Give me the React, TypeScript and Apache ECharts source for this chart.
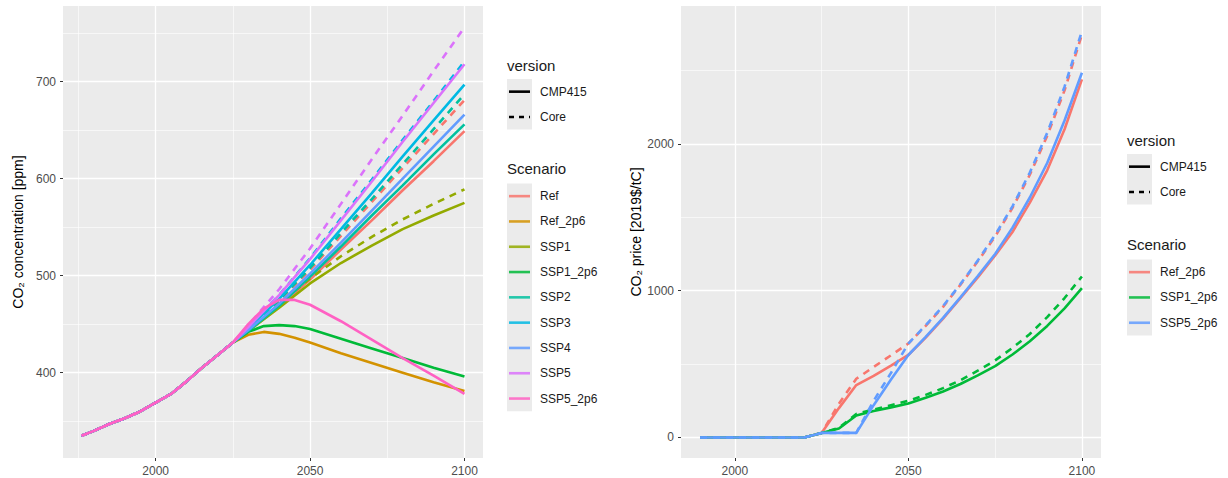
import React, { useEffect, useRef } from "react";
import * as echarts from "echarts";

const FONT = "Liberation Sans, Arial, Helvetica, sans-serif";

// ---------- Left panel: CO2 concentration ----------
const HIST_YEARS = [1976, 1980, 1985, 1990, 1995, 2000, 2005, 2010, 2015, 2020, 2025];
const HIST_PPM = [335, 340, 347, 353, 360, 369, 378, 391, 405, 418, 431];

const YRS_BASE = [2030, 2040, 2050, 2060, 2070, 2080, 2090, 2100];
const YRS_2P6 = [2030, 2035, 2040, 2045, 2050, 2060, 2070, 2080, 2090, 2100];

const REF_CMP = [443, 468, 496, 527, 557, 588, 618, 649];
const REF_CORE = [445, 474, 506, 541, 576, 611, 646, 681];
const REF2P6_CMP = [439, 442, 440, 436, 431, 420, 410, 400, 390, 381];
const SSP1_CMP = [443, 467, 492, 513, 531, 548, 562, 575];
const SSP1_CORE = [445, 471, 497, 520, 540, 558, 574, 589];
const SSP12P6_CMP = [442, 448, 449, 448, 445, 435, 425, 415, 405, 396];
const SSP2_CMP = [443, 469, 499, 530, 562, 593, 625, 656];
const SSP2_CORE = [445, 475, 508, 544, 579, 615, 651, 687];
const SSP3_CMP = [446, 476, 511, 548, 585, 623, 660, 697];
const SSP3_CORE = [447, 480, 518, 559, 599, 640, 680, 721];
const SSP4_CMP = [444, 471, 502, 534, 567, 600, 633, 666];
const SSP5_CMP = [447, 480, 517, 557, 597, 638, 678, 718];
const SSP5_CORE = [449, 486, 528, 574, 620, 665, 711, 756];
const SSP52P6_CMP = [450, 466, 475, 475, 470, 453, 434, 415, 397, 378];

const SCEN_NAMES = ["Ref", "Ref_2p6", "SSP1", "SSP1_2p6", "SSP2", "SSP3", "SSP4", "SSP5", "SSP5_2p6"];
const SCEN_COLORS = ["#F8766D", "#D39200", "#93AA00", "#00BA38", "#00C19F", "#00B9E3", "#619CFF", "#DB72FB", "#FF61C3"];

const CONC_SERIES = [
  { scen: "Ref", version: "CMP415", years: YRS_BASE, values: REF_CMP },
  { scen: "Ref", version: "Core", years: YRS_BASE, values: REF_CORE },
  { scen: "Ref_2p6", version: "CMP415", years: YRS_2P6, values: REF2P6_CMP },
  { scen: "SSP1", version: "CMP415", years: YRS_BASE, values: SSP1_CMP },
  { scen: "SSP1", version: "Core", years: YRS_BASE, values: SSP1_CORE },
  { scen: "SSP1_2p6", version: "CMP415", years: YRS_2P6, values: SSP12P6_CMP },
  { scen: "SSP2", version: "CMP415", years: YRS_BASE, values: SSP2_CMP },
  { scen: "SSP2", version: "Core", years: YRS_BASE, values: SSP2_CORE },
  { scen: "SSP3", version: "CMP415", years: YRS_BASE, values: SSP3_CMP },
  { scen: "SSP3", version: "Core", years: YRS_BASE, values: SSP3_CORE },
  { scen: "SSP4", version: "CMP415", years: YRS_BASE, values: SSP4_CMP },
  { scen: "SSP5", version: "CMP415", years: YRS_BASE, values: SSP5_CMP },
  { scen: "SSP5", version: "Core", years: YRS_BASE, values: SSP5_CORE },
  { scen: "SSP5_2p6", version: "CMP415", years: YRS_2P6, values: SSP52P6_CMP },
];

// ---------- Right panel: CO2 price ----------
const PRICE_YEARS = [1990, 2020, 2025, 2030, 2035, 2040, 2045, 2050, 2055, 2060, 2065, 2070, 2075, 2080, 2085, 2090, 2095, 2100];
const P_REF2P6_CMP = [0, 0, 31, 200, 357, 420, 490, 562, 680, 810, 950, 1090, 1240, 1400, 1600, 1820, 2100, 2440];
const P_REF2P6_CORE = [0, 0, 31, 230, 400, 480, 560, 640, 760, 890, 1040, 1200, 1370, 1565, 1790, 2055, 2365, 2746];
const P_SSP12P6_CMP = [0, 0, 31, 61, 150, 180, 205, 232, 270, 313, 364, 423, 486, 565, 655, 760, 880, 1017];
const P_SSP12P6_CORE = [0, 0, 31, 65, 160, 190, 220, 250, 290, 336, 390, 455, 525, 610, 705, 820, 950, 1097];
const P_SSP52P6_CMP = [0, 0, 31, 31, 31, 220, 395, 562, 685, 815, 955, 1100, 1250, 1430, 1635, 1870, 2160, 2485];
const P_SSP52P6_CORE = [0, 0, 31, 31, 31, 250, 440, 640, 765, 895, 1045, 1205, 1380, 1575, 1805, 2075, 2390, 2769];

const PRICE_NAMES = ["Ref_2p6", "SSP1_2p6", "SSP5_2p6"];
const PRICE_COLORS = ["#F8766D", "#00BA38", "#619CFF"];

const PRICE_SERIES = [
  { scen: "Ref_2p6", version: "CMP415", values: P_REF2P6_CMP },
  { scen: "Ref_2p6", version: "Core", values: P_REF2P6_CORE },
  { scen: "SSP1_2p6", version: "CMP415", values: P_SSP12P6_CMP },
  { scen: "SSP1_2p6", version: "Core", values: P_SSP12P6_CORE },
  { scen: "SSP5_2p6", version: "CMP415", values: P_SSP52P6_CMP },
  { scen: "SSP5_2p6", version: "Core", values: P_SSP52P6_CORE },
];

const VERSIONS = ["CMP415", "Core"];

// axis ticks
const L_X_MAJOR = [2000, 2050, 2100];
const L_X_MINOR = [1975, 2025, 2075];
const L_Y_MAJOR = [400, 500, 600, 700];
const L_Y_MINOR = [350, 450, 550, 650, 750];
const R_X_MAJOR = [2000, 2050, 2100];
const R_X_MINOR = [2025, 2075];
const R_Y_MAJOR = [0, 1000, 2000];
const R_Y_MINOR = [500, 1500, 2500];

const DASH = [7, 6];

function majorAxis(gridIndex: number, min: number, max: number, vals: number[], extra: any = {}) {
  return {
    type: "value",
    gridIndex,
    min,
    max,
    axisLine: { show: false, onZero: false },
    axisTick: { show: true, length: 3, lineStyle: { color: "#333333", width: 1 }, customValues: vals },
    axisLabel: {
      show: true,
      color: "#4D4D4D",
      fontSize: 12,
      fontFamily: FONT,
      customValues: vals,
      margin: 7,
      formatter: (v: number) => String(v),
    },
    splitLine: { show: true, lineStyle: { color: "#FFFFFF", width: 1.3 } },
    ...extra,
  };
}
function minorAxis(gridIndex: number, min: number, max: number, vals: number[]) {
  return {
    type: "value",
    gridIndex,
    min,
    max,
    axisLine: { show: false, onZero: false },
    axisTick: { show: false, customValues: vals },
    axisLabel: { show: false, customValues: vals },
    splitLine: { show: true, lineStyle: { color: "#FFFFFF", width: 0.6 } },
  };
}

function legendGraphics(x: number, vTitleY: number, sTitleY: number, names: string[], colors: string[]) {
  const step = 25.3;
  const keyW = 25;
  const els: any[] = [];
  const title = (t: string, y: number) => ({
    type: "text",
    x,
    y,
    style: {
      text: t,
      fontSize: 15,
      fontWeight: "normal",
      fontFamily: FONT,
      fill: "#1A1A1A",
      textVerticalAlign: "middle",
      textAlign: "left",
    },
  });
  const label = (t: string, y: number) => ({
    type: "text",
    x: x + 33,
    y,
    style: {
      text: t,
      fontSize: 12,
      fontWeight: "normal",
      fontFamily: FONT,
      fill: "#1A1A1A",
      textVerticalAlign: "middle",
      textAlign: "left",
    },
  });
  els.push(title("version", vTitleY));
  const vTop = vTitleY + 14;
  els.push({ type: "rect", shape: { x, y: vTop, width: keyW, height: step * VERSIONS.length }, style: { fill: "#EBEBEB" } });
  VERSIONS.forEach((v, i) => {
    const cy = vTop + step * (i + 0.5);
    els.push({
      type: "line",
      shape: { x1: x + 2, y1: cy, x2: x + keyW - 2, y2: cy },
      style: { stroke: "#000", lineWidth: 2.6, lineDash: v === "Core" ? [5, 5] : null },
    });
    els.push(label(v, cy));
  });
  els.push(title("Scenario", sTitleY));
  const sTop = sTitleY + 15.5;
  els.push({ type: "rect", shape: { x, y: sTop, width: keyW, height: step * names.length }, style: { fill: "#EBEBEB" } });
  names.forEach((n, i) => {
    const cy = sTop + step * (i + 0.5);
    els.push({
      type: "line",
      shape: { x1: x + 2, y1: cy, x2: x + keyW - 2, y2: cy },
      style: { stroke: colors[i], lineWidth: 2.6, opacity: 0.85 },
    });
    els.push(label(n, cy));
  });
  return els;
}

export default function App() {
  const ref = useRef<HTMLDivElement>(null);
  useEffect(() => {
    if (!ref.current) return;
    const chart = echarts.init(ref.current, null, { renderer: "svg" });

    const series: any[] = [];
    CONC_SERIES.forEach((s) => {
      const color = SCEN_COLORS[SCEN_NAMES.indexOf(s.scen)];
      const data: number[][] = HIST_YEARS.map((y, i) => [y, HIST_PPM[i]]);
      s.years.forEach((y, i) => data.push([y, s.values[i]]));
      series.push({
        type: "line",
        name: s.scen + " " + s.version,
        xAxisIndex: 0,
        yAxisIndex: 0,
        data,
        symbol: "none",
        showSymbol: false,
        lineStyle: { color, width: 2.6, type: s.version === "Core" ? DASH : "solid" },
        z: 3,
      });
    });
    PRICE_SERIES.forEach((s) => {
      const color = PRICE_COLORS[PRICE_NAMES.indexOf(s.scen)];
      series.push({
        type: "line",
        name: s.scen + " " + s.version + " price",
        xAxisIndex: 2,
        yAxisIndex: 2,
        data: PRICE_YEARS.map((y, i) => [y, s.values[i]]),
        symbol: "none",
        showSymbol: false,
        lineStyle: { color, width: 2.6, type: s.version === "Core" ? DASH : "solid" },
        z: 3,
      });
    });

    const nameStyle = { fontSize: 14, fontFamily: FONT, color: "#000" };

    chart.setOption({
      animation: false,
      backgroundColor: "#FFFFFF",
      textStyle: { fontFamily: FONT },
      grid: [
        { left: 63, top: 6, width: 420, height: 452, show: true, backgroundColor: "#EBEBEB", borderWidth: 0, containLabel: false, outerBoundsMode: "none" },
        { left: 681, top: 6, width: 420, height: 452, show: true, backgroundColor: "#EBEBEB", borderWidth: 0, containLabel: false, outerBoundsMode: "none" },
      ],
      xAxis: [
        majorAxis(0, 1970, 2106, L_X_MAJOR, { position: "bottom" }),
        minorAxis(0, 1970, 2106, L_X_MINOR),
        majorAxis(1, 1984.5, 2105.5, R_X_MAJOR, { position: "bottom" }),
        minorAxis(1, 1984.5, 2105.5, R_X_MINOR),
      ],
      yAxis: [
        majorAxis(0, 312, 778, L_Y_MAJOR, {
          position: "left",
          name: "CO₂ concentration [ppm]",
          nameLocation: "middle",
          nameGap: 38,
          nameRotate: 90,
          nameTextStyle: nameStyle,
        }),
        minorAxis(0, 312, 778, L_Y_MINOR),
        majorAxis(1, -140, 2940, R_Y_MAJOR, {
          position: "left",
          name: "CO₂ price [2019$/tC]",
          nameLocation: "middle",
          nameGap: 38,
          nameRotate: 90,
          nameTextStyle: nameStyle,
        }),
        minorAxis(1, -140, 2940, R_Y_MINOR),
      ],
      series,
      graphic: [
        ...legendGraphics(507, 65, 168, SCEN_NAMES, SCEN_COLORS),
        ...legendGraphics(1127, 140, 244, PRICE_NAMES, PRICE_COLORS),
      ],
    });
    return () => chart.dispose();
  }, []);
  return <div ref={ref} style={{ position: "absolute", left: 0, top: 0, width: 1228, height: 478 }} />;
}
